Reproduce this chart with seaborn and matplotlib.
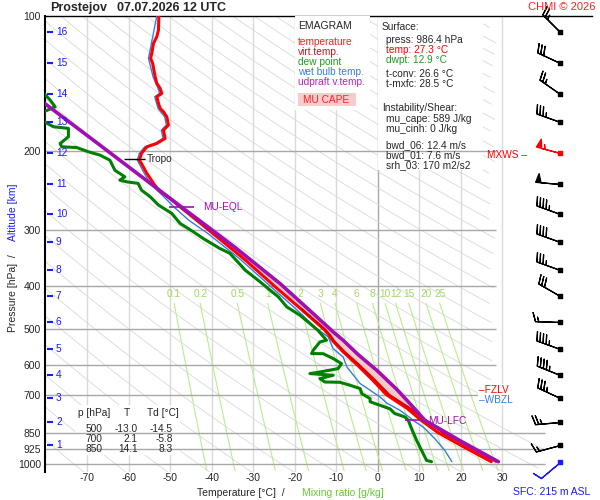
import numpy as np
import matplotlib
matplotlib.use("Agg")
import matplotlib.pyplot as plt
import seaborn as sns
from matplotlib.patches import Rectangle

# ---- sounding (hPa, degC) ----
p_t = [100, 107.5, 111.2, 115.1, 121.1, 124.3, 127.5, 136.6, 141.3, 145.0, 148.8, 151.4,
       156.6, 160.7, 163.5, 167.8, 175.1, 179.7, 187.5, 192.4, 195.8, 202.5, 209.7, 213.3,
       224.4, 236.2, 244.5, 255.2, 266.5, 285.4, 305.5, 350, 400, 450, 500, 515, 530, 560,
       600, 650, 700, 750, 800, 850, 900, 950, 986.4]
t = [-52.8, -52.9, -53.3, -54.1, -54.5, -54.8, -54.3, -53.7, -53.3, -52.5, -52.1, -53.3,
     -52.9, -52.5, -51.7, -50.9, -50.5, -51.7, -51.3, -53.3, -55.7, -57.0, -57.5, -57.0,
     -55.7, -54.1, -52.9, -50.1, -47.7, -43.7, -39.8, -32.0, -25.0, -18.6, -13.0, -11.8,
     -10.9, -8.5, -5.0, -1.2, 2.1, 7.0, 10.6, 14.5, 19.3, 24.0, 27.3]

p_tv = [450, 500, 515, 530, 560, 600, 650, 700, 750, 800, 850, 900, 950, 986.4]
tv = [-18.4, -12.7, -11.5, -10.6, -8.1, -4.5, -0.6, 2.8, 7.8, 11.6, 15.6, 20.5, 25.2, 28.4]

p_td = [100, 140, 148.8, 154.0, 159.4, 163.5, 172.0, 176.6, 178.1, 185.9, 192.5, 195.8,
        196.5, 200.8, 204.3, 209.7, 220.8, 228.4, 232.3, 234.3, 236.2, 244.5, 253.0, 264.0,
        275.6, 290.1, 302.9, 313.6, 330.0, 338.3, 368.7, 391.7, 408.9, 423.1, 445.3, 465.0,
        485.2, 502.2, 528.7, 533.3, 556.6, 566.1, 566.5, 580.8, 596.0, 611.5, 622.3, 627.4,
        632.9, 643.7, 655.1, 656.0, 666.3, 677.6, 695.3, 713.5, 725.0, 752.0, 770.0, 784.0,
        797.6, 832.4, 884.0, 930.7, 979.7, 986.4]
td = [-95, -88, -80.5, -79.0, -77.8, -80.5, -80.5, -78.2, -74.6, -74.6, -76.6, -76.2,
      -72.6, -69.8, -67.0, -64.6, -63.4, -61.0, -62.2, -60.6, -57.8, -57.0, -54.9, -52.9,
      -49.7, -47.7, -44.5, -42.1, -38.1, -35.7, -32.0, -28.4, -26.0, -24.0, -22.0, -18.8,
      -16.4, -14.5, -12.4, -14.0, -15.6, -16.0, -13.2, -10.8, -8.8, -9.6, -14.0, -16.4,
      -10.8, -14.0, -12.8, -9.2, -6.7, -4.3, -3.9, -1.9, -1.9, 2.9, 4.0, 6.5,
      7.3, 8.1, 9.3, 10.5, 11.7, 12.9]

p_tw = [100, 115.1, 124.3, 136.6, 145.0, 148.8, 151.4, 160.7, 167.8, 175.1, 179.7, 187.5,
        192.4, 195.8, 202.5, 209.7, 224.4, 236.2, 255.2, 266.5, 285.4, 305.5, 350, 400, 450,
        497.9, 519.7, 551.7, 576, 606.4, 632.9, 660.4, 683.5, 707.5, 729.8, 757.6, 784,
        797.6, 825.7, 876.2, 930.7, 986.4]
tw = [-53.3, -54.6, -55.3, -54.2, -53.0, -52.6, -53.8, -53.0, -51.4, -51.0, -52.2, -51.8,
      -53.8, -56.2, -57.5, -58.0, -56.3, -54.9, -51.2, -49.2, -45.6, -41.0, -33.0, -26.0,
      -19.8, -14.8, -12.0, -10.8, -8.4, -7.5, -5.9, -4.3, -1.9, 0.5, 2.1, 5.3, 7.5,
      8.5, 10.9, 13.7, 16.1, 17.8]

p_parcel = [140, 158.0, 194.1, 266.5, 329.5, 395.2, 453.2, 506.6, 528.7, 570, 616.8, 680,
            731.8, 797.6, 890, 986.4]
t_parcel = [-87.0, -79.8, -67.0, -47.4, -34.2, -23.6, -16.5, -10.8, -8.4, -4.7, -0.3, 4.5,
            7.7, 11.3, 20.2, 29.0]

# winds every km (16 .. 1 km) + surface
alt_km = list(range(16, 0, -1))
alt_p = [108.6, 127.3, 149.4, 172.4, 202.2, 237.1, 276.7, 319.5, 369.0, 421.7, 482.0,
         553.7, 632.9, 712.3, 805.8, 907.0]
wind_dir = [315, 295, 305, 290, 285, 275, 290, 290, 290, 300, 272, 290, 292, 295, 265, 255]
wind_spd = [25, 30, 25, 35, 55, 50, 45, 40, 35, 30, 15, 45, 45, 35, 25, 15]
sfc_p, sfc_dir, sfc_spd = 986.4, 230, 10

mix_ratios = [0.1, 0.2, 0.5, 1, 2, 3, 4, 6, 8, 10, 12, 15, 20, 25]
p_levels = [100, 200, 300, 400, 500, 600, 700, 850, 925, 1000]
iso_temps = list(range(-70, 40, 10))

table_p = ["500", "700", "850"]
table_t = ["-13.0", "2.1", "14.1"]
table_td = ["-14.5", "-5.8", "8.3"]

tropo_p = 208
eql_p, lfc_p = 266.5, 797
fzlv_p, wbzl_p, mxws_p = 682, 718, 204

sns.set_style("white")
plt.rcParams['font.family'] = ['Liberation Sans', 'DejaVu Sans']

W, H = 600, 500
fig = plt.figure(figsize=(6, 5), dpi=100)
ax = fig.add_axes([45 / W, 1 - 472 / H, 547 / W, 456 / H])
ax.set_yscale('log')
ax.set_xlim(-80.24, 51.57)
ax.set_ylim(1040, 100)


def ftext(x, y, s, **kw):
    kw.setdefault('fontsize', 7.3)
    kw.setdefault('va', 'center')
    kw.setdefault('zorder', 8)
    ax.text(x / W, 1 - y / H, s, transform=fig.transFigure, clip_on=False, **kw)


def fbox(x0, y0, x1, y1, color='white', z=5):
    ax.add_patch(Rectangle((x0 / W, 1 - y1 / H), (x1 - x0) / W, (y1 - y0) / H,
                           transform=fig.transFigure, facecolor=color, edgecolor='none',
                           zorder=z, clip_on=False))


def right_limit(p):
    return np.where(p < 820, 28.4, 40.2)


# background: isotherms, dry adiabats, mixing ratio lines, isobars
for it in iso_temps:
    ax.vlines(it, 100, 1040, color='#a8a8a8' if it == 0 else '#dadada', lw=1, zorder=1)

pp = np.geomspace(100, 1040, 120)
for theta in range(200, 600, 10):
    tt = theta * (pp / 1000.0) ** 0.286 - 273.15
    tt = np.where(tt > right_limit(pp), np.nan, tt)
    ax.plot(tt, pp, color='#d9d9d9', lw=0.6, zorder=1.1)

pm = np.geomspace(437, 1033, 40)
for w in mix_ratios:
    e = w * pm / (622 + w)
    a = np.log(e / 6.112)
    tt = 243.5 * a / (17.67 - a)
    ax.plot(tt, pm, color='#b6ef8c', lw=0.8, zorder=1.2)
    ax.text(tt[0], 417, f"{w:g}", color='#a0d860', fontsize=7.3, ha='center',
            va='center', zorder=1.3)

fbox(378, 16, 483, 170, z=1.5)
fbox(75, 405, 180, 455, z=1.5)

for p in p_levels[1:]:
    xmax = 40.2 if p >= 850 else 28.4
    ax.hlines(p, -80.24, xmax, color='#a8a8a8', lw=1, zorder=2)

# CAPE area
pf = np.geomspace(eql_p, lfc_p, 80)
env = np.interp(np.log(pf), np.log(p_t), t)
par = np.interp(np.log(pf), np.log(p_parcel), t_parcel)
ax.fill_betweenx(pf, env, par, where=par >= env, color='#f6caca', lw=0, zorder=2.5)

# profiles
sns.lineplot(x=tw, y=p_tw, sort=False, estimator=None, ax=ax, color='#3a7ae8', lw=1.0, zorder=3)
sns.lineplot(x=td, y=p_td, sort=False, estimator=None, ax=ax, color='#008000', lw=2.2, zorder=3.2)
sns.lineplot(x=t, y=p_t, sort=False, estimator=None, ax=ax, color='#ff0000', lw=2.2, zorder=3.4)
sns.lineplot(x=tv, y=p_tv, sort=False, estimator=None, ax=ax, color='#d80000', lw=1.4, zorder=3.5)
sns.lineplot(x=t_parcel, y=p_parcel, sort=False, estimator=None, ax=ax, color='#a010b0', lw=2.6, zorder=3.6)

# level markers
ax.hlines(tropo_p, -61.2, -56.1, color='black', lw=1, zorder=4)
ax.text(-55.8, tropo_p, "Tropo", fontsize=7.3, va='center', zorder=4)
ax.hlines(eql_p, -50.4, -44.3, color='#a010b0', lw=1.2, zorder=4)
ax.text(-42.2, eql_p, "MU-EQL", fontsize=7.3, va='center', color='#a010b0', zorder=4)
ax.hlines(lfc_p, 6.5, 11.8, color='#a010b0', lw=1.2, zorder=4)
ax.text(12.0, lfc_p + 5, "MU-LFC", fontsize=7.3, va='center', color='#a010b0', zorder=3.3)
fbox(478, 384, 522, 405, z=4)
ax.text(24.3, fzlv_p, "\u2013FZLV", fontsize=7.3, va='center', color='red', zorder=4.5)
ax.text(24.3, wbzl_p, "\u2013WBZL", fontsize=7.3, va='center', color='#3a7ae8', zorder=4.5)
ax.text(26.3, mxws_p, "MXWS \u2013", fontsize=7.3, va='center', color='red', zorder=4.5)

# altitude scale
for km, p in zip(alt_km, alt_p):
    ax.hlines(p, -79.8, -78.3, color='#1a1aff', lw=1.5, zorder=4)
    ax.text(-77.6, p, str(km), fontsize=7.3, color='#1a1aff', va='center', zorder=4)

# wind barbs
xb = 43.9
barb_kw = dict(length=6.0, lw=0.9, zorder=6, clip_on=False,
               sizes=dict(height=0.36, spacing=0.13, width=0.22))
d = np.radians(wind_dir)
u = -np.array(wind_spd) * np.sin(d)
v = -np.array(wind_spd) * np.cos(d)
cols = ['red' if km == 12 else 'black' for km in alt_km]
for i in range(len(alt_p)):
    ax.barbs([xb], [alt_p[i]], [u[i]], [v[i]], color=cols[i], **barb_kw)
    ax.scatter([xb], [alt_p[i]], marker='s', s=5, color=cols[i], zorder=6)
ds = np.radians(sfc_dir)
ax.barbs([xb], [sfc_p], [-sfc_spd * np.sin(ds)], [-sfc_spd * np.cos(ds)],
         color='#1a1aff', **barb_kw)
ax.scatter([xb], [sfc_p], marker='s', s=5, color='#1a1aff', zorder=6)

# axes cosmetics
ax.set_xlabel('')
ax.set_ylabel('')
ax.set_xticks(iso_temps)
ax.set_xticklabels([str(v) for v in iso_temps])
ax.set_yticks(p_levels)
ax.set_yticklabels([str(p) for p in p_levels])
ax.minorticks_off()
ax.tick_params(axis='both', length=0, labelsize=7.5)
ax.tick_params(axis='x', pad=1)
ax.tick_params(axis='y', pad=3)
for s in ['right', 'bottom']:
    ax.spines[s].set_visible(False)
ax.spines['left'].set_color('black')
ax.spines['left'].set_linewidth(1.5)
ax.spines['top'].set_color('black')
ax.spines['top'].set_linewidth(1.0)

# legend box
fbox(295, 16, 370, 110, z=5)
ftext(298, 26, "EMAGRAM", fontsize=7.5)
ftext(298, 42, "temperature", color='#ff2020')
ftext(298, 52, "virt.temp.", color='#a82020')
ftext(298, 62, "dew point", color='#229922')
ftext(298, 72, "wet bulb temp.", color='#3a7ae8')
ftext(298, 82, "udpraft v.temp.", color='#c020c0')
fbox(298, 93, 356, 106, color='#f8cccc', z=6)
ftext(303, 100, "MU CAPE", color='#ff2020')

# surface / instability info
ftext(382, 27.5, "Surface:")
ftext(386, 40, "press: 986.4 hPa")
ftext(386, 50, "temp: 27.3 \u00b0C", color='red')
ftext(386, 60, "dwpt: 12.9 \u00b0C", color='#229922')
ftext(386, 74, "t-conv: 26.6 \u00b0C")
ftext(386, 84, "t-mxfc: 28.5 \u00b0C")
ftext(382, 108, "Instability/Shear:")
ftext(386, 119.5, "mu_cape: 589 J/kg")
ftext(386, 129.5, "mu_cinh: 0 J/kg")
ftext(386, 145, "bwd_06: 12.4 m/s")
ftext(386, 155, "bwd_01: 7.6 m/s")
ftext(386, 165, "srh_03: 170 m2/s2")

# level table
ftext(78, 413.5, "p [hPa]")
ftext(127, 413.5, "T", ha='center')
ftext(147, 413.5, "Td [\u00b0C]")
for i, y in enumerate([428.5, 438.5, 448.5]):
    ftext(102, y, table_p[i], ha='right')
    ftext(137.5, y, table_t[i], ha='right')
    ftext(173, y, table_td[i], ha='right')

# titles and axis labels
ftext(50, 8, "Prostejov", fontsize=9, fontweight='bold')
ftext(117, 8, "07.07.2026 12 UTC", fontsize=9, fontweight='bold')
ftext(595, 7, "CHMI \u00a9 2026", color='#ff2020', ha='right', fontsize=8)
ftext(197, 493, "Temperature [\u00b0C]  /", fontsize=7.5)
ftext(302, 493, "Mixing ratio [g/kg]", fontsize=7.5, color='#66cc33')
ftext(590, 492, "SFC: 215 m ASL", fontsize=7.5, color='#1a1aff', ha='right')
ftext(13, 293, "Pressure [hPa]  /", fontsize=7.5, rotation=90, ha='center')
ftext(13, 212, "Altitude [km]", fontsize=7.5, rotation=90, ha='center', color='#1a1aff')

fig.savefig("out.png", dpi=100)
